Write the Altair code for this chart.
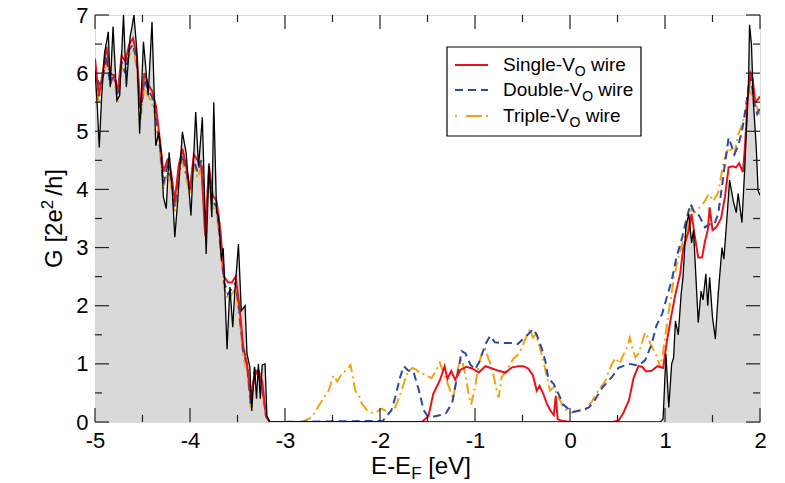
import altair as alt
import pandas as pd

# ---------------- data ----------------
pristine_E = [-5.00, -4.975, -4.955, -4.93, -4.90, -4.86, -4.84, -4.81, -4.77, -4.74, -4.70, -4.67,
              -4.63, -4.61, -4.59, -4.56, -4.53, -4.49, -4.44, -4.40, -4.36, -4.33, -4.30, -4.28,
              -4.25, -4.22, -4.19, -4.16, -4.13, -4.08, -4.04, -3.99, -3.94, -3.91, -3.87, -3.83,
              -3.80, -3.77, -3.75, -3.72, -3.70, -3.67, -3.65, -3.61, -3.58, -3.55, -3.53, -3.49,
              -3.46, -3.42, -3.40, -3.37, -3.35, -3.32, -3.30, -3.28, -3.26, -3.24, -3.21, -3.19,
              -3.16, 0.95, 0.98, 1.01, 1.04, 1.07, 1.09, 1.11, 1.14, 1.17, 1.19, 1.22, 1.25, 1.28,
              1.30, 1.35, 1.38, 1.40, 1.43, 1.45, 1.47, 1.50, 1.53, 1.56, 1.60, 1.62, 1.66, 1.68,
              1.72, 1.75, 1.77, 1.81, 1.84, 1.88, 1.89, 1.91, 1.93, 1.96, 1.98, 2.00]
pristine_G = [6.05, 5.4, 4.72, 5.6, 6.34, 6.71, 5.76, 6.80, 5.53, 5.62, 7.0, 5.76,
              6.63, 6.80, 7.0, 6.4, 4.96, 6.54, 5.62, 6.88, 4.75, 4.98, 4.6, 3.87,
              3.67, 4.64, 4.1, 3.18, 3.79, 4.99, 4.62, 3.55, 5.33, 4.4, 5.24, 2.89,
              4.45, 3.52, 5.5, 3.6, 3.55, 2.78, 2.99, 1.25, 2.32, 1.63, 2.2, 3.06,
              1.91, 2.0, 1.17, 0.95, 0.19, 0.95, 0.4, 1.0, 0.4, 0.98, 1.0, 0.1,
              0.0, 0.0, 0.05, 1.17, 0.25, 1.0, 1.1, 1.74, 1.5, 2.2, 2.5, 3.35, 3.58, 3.08,
              3.3, 1.71, 2.25, 2.1, 2.55, 2.0, 2.49, 1.8, 1.43, 2.2, 3.0, 2.8, 3.69, 4.16,
              3.79, 3.6, 3.93, 3.43, 4.38, 5.9, 6.83, 6.5, 5.5, 4.75, 3.98, 3.9]

single_E = [-5.00, -4.96, -4.92, -4.88, -4.84, -4.80, -4.76, -4.72, -4.68, -4.64, -4.60, -4.56,
            -4.52, -4.48, -4.44, -4.40, -4.36, -4.32, -4.28, -4.24, -4.20, -4.16, -4.12, -4.08,
            -4.04, -4.00, -3.96, -3.92, -3.88, -3.84, -3.80, -3.76, -3.72, -3.68, -3.64, -3.60,
            -3.56, -3.52, -3.48, -3.44, -3.40, -3.36, -3.32, -3.28, -3.24, -3.20, -3.16, -1.56,
            -1.49, -1.44, -1.39, -1.36, -1.32, -1.29, -1.25, -1.21, -1.15, -1.09, -1.03, -0.96,
            -0.89, -0.82, -0.75, -0.68, -0.61, -0.54, -0.49, -0.44, -0.39, -0.35, -0.32, -0.28,
            -0.24, -0.20, -0.17, -0.15, -0.13, -0.09, 0.00, 0.45, 0.51, 0.56, 0.62, 0.67, 0.72,
            0.76, 0.80, 0.86, 0.92, 0.98, 1.02, 1.07, 1.11, 1.16, 1.19, 1.25, 1.28, 1.31, 1.35,
            1.39, 1.42, 1.45, 1.47, 1.50, 1.54, 1.59, 1.63, 1.67, 1.71, 1.75, 1.78, 1.82, 1.84,
            1.87, 1.90, 1.92, 1.95, 1.98, 2.00]
single_G = [6.25, 5.6, 6.0, 6.45, 6.0, 5.95, 5.7, 6.3, 6.2, 6.5, 6.6, 6.3,
            5.4, 6.0, 5.8, 5.7, 5.45, 4.9, 4.3, 4.5, 4.3, 3.8, 4.4, 4.7,
            4.4, 4.0, 4.6, 4.5, 4.4, 3.2, 4.4, 3.9, 3.8, 3.3, 2.5, 2.4,
            2.4, 2.5, 2.0, 1.3, 1.0, 0.4, 0.8, 0.9, 0.7, 0.1, 0.0, 0.0,
            0.1, 0.48, 0.65, 0.76, 0.96, 0.74, 0.88, 0.73, 0.9, 0.95, 0.92, 0.85,
            0.96, 0.92, 0.88, 0.85, 0.94, 0.96, 0.96, 0.92, 0.8, 0.54, 0.62, 0.48,
            0.3, 0.18, 0.12, 0.45, 0.05, 0.02, 0.0, 0.0, 0.02, 0.15, 0.37, 0.76, 0.96,
            0.95, 0.87, 0.88, 0.96, 0.93, 1.39, 1.86, 2.2, 2.55, 2.97, 3.29, 3.58, 3.23, 2.83,
            2.83, 3.1, 3.3, 3.69, 3.3, 3.35, 3.5, 3.86, 4.38, 4.4, 4.38, 4.45, 4.3, 4.7,
            5.53, 6.0, 5.93, 5.5, 5.55, 5.6]

double_E = [-5.00, -4.96, -4.92, -4.88, -4.84, -4.80, -4.76, -4.72, -4.68, -4.64, -4.60, -4.56,
            -4.52, -4.48, -4.44, -4.40, -4.36, -4.32, -4.28, -4.24, -4.20, -4.16, -4.12, -4.08,
            -4.04, -4.00, -3.96, -3.92, -3.88, -3.84, -3.80, -3.76, -3.72, -3.68, -3.64, -3.60,
            -3.56, -3.52, -3.48, -3.44, -3.40, -3.36, -3.32, -3.28, -3.24, -3.20, -3.16, -1.97,
            -1.95, -1.88, -1.84, -1.79, -1.75, -1.70, -1.65, -1.59, -1.54, -1.49, -1.42, -1.31,
            -1.24, -1.19, -1.14, -1.10, -1.05, -1.00, -0.95, -0.89, -0.84, -0.79, -0.72, -0.65,
            -0.59, -0.55, -0.50, -0.44, -0.39, -0.35, -0.30, -0.26, -0.23, -0.17, -0.12, -0.07,
            -0.02, 0.02, 0.12, 0.20, 0.27, 0.34, 0.44, 0.51, 0.62, 0.72, 0.79, 0.86, 0.91, 0.97,
            1.02, 1.07, 1.12, 1.18, 1.23, 1.27, 1.31, 1.36, 1.42, 1.47, 1.52, 1.56, 1.60, 1.63,
            1.67, 1.70, 1.73, 1.77, 1.81, 1.84, 1.88, 1.90, 1.94, 1.97, 2.00]
double_G = [6.1, 5.8, 5.9, 6.3, 5.8, 6.0, 5.6, 6.2, 6.0, 6.4, 6.5, 6.2,
            5.3, 5.9, 5.7, 5.6, 5.3, 4.8, 4.1, 4.4, 4.2, 3.7, 4.3, 4.6,
            4.3, 4.0, 4.5, 4.3, 4.5, 3.4, 4.3, 3.8, 3.7, 3.1, 2.4, 2.2,
            2.3, 2.4, 1.9, 1.2, 1.0, 0.3, 0.9, 0.85, 0.6, 0.1, 0.0, 0.02,
            0.06, 0.2, 0.42, 0.76, 0.96, 0.88, 0.88, 0.54, 0.2, 0.08, 0.1, 0.14,
            0.33, 0.76, 1.22, 1.18, 0.99, 0.9, 1.05, 1.34, 1.48, 1.37, 1.36, 1.36,
            1.36, 1.34, 1.42, 1.51, 1.6, 1.5, 1.28, 1.05, 0.76, 0.65, 0.48, 0.3,
            0.23, 0.17, 0.2, 0.25, 0.4, 0.59, 0.77, 0.93, 1.0, 0.97, 1.06, 1.34, 1.66, 1.86,
            2.15, 2.43, 2.83, 3.17, 3.52, 3.75, 3.6, 3.55, 3.35, 3.4, 3.4, 3.58, 4.05, 4.43,
            4.89, 4.75, 4.6, 4.75, 5.0, 5.3, 5.76, 5.95, 5.5, 5.3, 5.4]

triple_E = [-5.00, -4.96, -4.92, -4.88, -4.84, -4.80, -4.76, -4.72, -4.68, -4.64, -4.60, -4.56,
            -4.52, -4.48, -4.44, -4.40, -4.36, -4.32, -4.28, -4.24, -4.20, -4.16, -4.12, -4.08,
            -4.04, -4.00, -3.96, -3.92, -3.88, -3.84, -3.80, -3.76, -3.72, -3.68, -3.64, -3.60,
            -3.56, -3.52, -3.48, -3.44, -3.40, -3.36, -3.32, -3.28, -3.24, -3.20, -3.16, -2.82,
            -2.72, -2.61, -2.54, -2.49, -2.45, -2.40, -2.35, -2.31, -2.29, -2.26, -2.22, -2.19,
            -2.14, -2.09, -2.03, -1.98, -1.91, -1.84, -1.77, -1.72, -1.66, -1.62, -1.57, -1.52,
            -1.46, -1.42, -1.37, -1.32, -1.26, -1.23, -1.20, -1.17, -1.14, -1.10, -1.06, -1.04,
            -1.00, -0.96, -0.93, -0.89, -0.86, -0.82, -0.78, -0.75, -0.72, -0.66, -0.60, -0.54,
            -0.50, -0.45, -0.42, -0.39, -0.36, -0.32, -0.28, -0.24, -0.21, -0.17, -0.13, -0.10,
            -0.07, -0.02, 0.02, 0.09, 0.16, 0.23, 0.30, 0.37, 0.44, 0.48, 0.52, 0.56, 0.60, 0.63,
            0.66, 0.69, 0.73, 0.79, 0.82, 0.86, 0.92, 0.95, 0.98, 1.04, 1.09, 1.14, 1.19, 1.25,
            1.28, 1.31, 1.37, 1.42, 1.46, 1.51, 1.56, 1.62, 1.67, 1.70, 1.73, 1.77, 1.81, 1.85,
            1.88, 1.91, 1.95, 1.99, 2.00]
triple_G = [6.0, 5.5, 5.9, 6.2, 5.9, 5.9, 5.5, 6.1, 6.0, 6.3, 6.4, 6.1,
            5.2, 5.8, 5.6, 5.5, 5.2, 4.7, 4.0, 4.3, 4.1, 3.6, 4.2, 4.5,
            4.2, 3.9, 4.4, 4.2, 4.4, 3.3, 4.2, 3.7, 3.6, 3.0, 2.3, 2.1,
            2.2, 2.3, 1.8, 1.1, 0.9, 0.25, 0.85, 0.8, 0.55, 0.1, 0.0, 0.0,
            0.08, 0.37, 0.54, 0.8, 0.7, 0.83, 0.9, 0.98, 0.8, 0.54, 0.45, 0.31,
            0.21, 0.16, 0.18, 0.23, 0.16, 0.25, 0.55, 0.82, 0.93, 0.9, 0.83, 0.82,
            0.75, 0.85, 1.02, 0.8, 0.54, 0.4, 0.7, 1.0, 1.08, 0.8, 0.42, 0.3,
            0.6, 1.0, 1.17, 1.25, 1.1, 0.93, 0.6, 0.42, 0.77, 0.9, 1.08, 1.17,
            1.3, 1.51, 1.6, 1.45, 1.51, 1.3, 1.05, 0.75, 0.54, 0.6, 0.45, 0.36,
            0.25, 0.18, 0.16, 0.2, 0.21, 0.35, 0.55, 0.7, 1.0, 1.1, 1.0, 1.15, 1.28, 1.45,
            1.25, 1.11, 1.2, 1.54, 1.45, 1.3, 1.11, 0.93, 1.2, 1.91, 2.43, 2.83, 3.11, 3.4,
            3.68, 3.6, 3.7, 3.8, 3.92, 3.8, 3.95, 4.49, 4.72, 4.65, 4.6, 4.95, 5.1, 5.36,
            5.7, 5.65, 5.5, 5.3, 5.3]

x_major = [-5, -4, -3, -2, -1, 0, 1, 2]
x_minor = [-4.5, -3.5, -2.5, -1.5, -0.5, 0.5, 1.5]
y_major = [0, 1, 2, 3, 4, 5, 6, 7]
y_minor = [0.5, 1.5, 2.5, 3.5, 4.5, 5.5, 6.5]

legend_labels = ["Single-V", "Double-V", "Triple-V"]
legend_colors = ["#e8141c", "#2b4aa3", "#f5a10f"]

# ---------------- layout ----------------
W, H = 665, 407
FONT = "Liberation Sans"
MAJ, MIN = 14, 7

xs = alt.Scale(domain=[-5, 2], nice=False, zero=False)
ys = alt.Scale(domain=[0, 7], nice=False, zero=False)

x_axis = alt.Axis(
    values=x_major, ticks=False, domain=False, grid=False, labelFontSize=22,
    labelFont=FONT, labelColor="black", labelPadding=8, labelFlush=False,
    labelOverlap=False, title=None,
    labelExpr="datum.value < 0 ? '-' + abs(datum.value) : '' + datum.value")
y_axis = alt.Axis(
    values=y_major, ticks=False, domain=False, grid=False, labelFontSize=22,
    labelFont=FONT, labelColor="black", labelPadding=7, labelFlush=False,
    labelOverlap=False, title=None, format="d")

XE = alt.X("E:Q", scale=xs, axis=x_axis)
YG = alt.Y("G:Q", scale=ys, axis=y_axis)

# Arial-like advance widths (per em) for positioning the sub/superscript pieces
CW = {"S": .667, "i": .222, "n": .556, "g": .556, "l": .222, "e": .556, "-": .333, "V": .667,
      "O": .778, " ": .278, "w": .722, "r": .333, "D": .722, "o": .556, "u": .556, "b": .556,
      "T": .611, "p": .556, "E": .667, "F": .611, "[": .278, "]": .278, "v": .5, "G": .778,
      "2": .556, "/": .278, "h": .556}


def tw(s, size):
    return sum(CW.get(c, .556) for c in s) * size


one = pd.DataFrame({"k": [0]})

pristine = pd.DataFrame({"E": pristine_E, "G": pristine_G})

area = alt.Chart(pristine).mark_area(color="#d9d9d9", clip=True).encode(x=XE, y=YG)


def series(E, G, color, dash, width=2.0):
    df = pd.DataFrame({"E": E, "G": G})
    kw = dict(color=color, strokeWidth=width, clip=True)
    if dash:
        kw["strokeDash"] = dash
    return alt.Chart(df).mark_line(**kw).encode(x=XE, y=YG)


dash_blue = [8, 5]
dash_orange = [11, 4, 2, 4]

red = series(single_E, single_G, legend_colors[0], None)
blue = series(double_E, double_G, legend_colors[1], dash_blue)
orange = series(triple_E, triple_G, legend_colors[2], dash_orange)
black = series(pristine_E, pristine_G, "black", None, 1.3)


# inward ticks on all four sides
def xticks(vals, length):
    df = pd.DataFrame({"E": vals})
    bot = alt.Chart(df).mark_rule(color="#222", strokeWidth=1.2).encode(
        x=XE, y=alt.value(H), y2=alt.value(H - length))
    top = alt.Chart(df).mark_rule(color="#222", strokeWidth=1.2).encode(
        x=XE, y=alt.value(0), y2=alt.value(length))
    return [bot, top]


def yticks(vals, length):
    df = pd.DataFrame({"G": vals})
    lft = alt.Chart(df).mark_rule(color="#222", strokeWidth=1.2).encode(
        y=YG, x=alt.value(0), x2=alt.value(length))
    rgt = alt.Chart(df).mark_rule(color="#222", strokeWidth=1.2).encode(
        y=YG, x=alt.value(W), x2=alt.value(W - length))
    return [lft, rgt]


ticks = xticks(x_major, MAJ) + xticks(x_minor, MIN) + yticks(y_major, MAJ) + yticks(y_minor, MIN)


def txt(s, size, x, y, baseline="alphabetic", angle=0):
    kw = dict(text=s, font=FONT, fontSize=size, align="left", baseline=baseline, color="black")
    if angle:
        kw["angle"] = angle
    return alt.Chart(one).mark_text(**kw).encode(x=alt.value(x), y=alt.value(y))


# x-axis title with subscript F
XT, XS = 24, 17
xt_total = tw("E-E", XT) + tw("F", XS) + tw(" [eV]", XT)
x0 = 326 - xt_total / 2
yb = 459
xtitle = [
    txt("E-E", XT, x0, yb),
    txt("F", XS, x0 + tw("E-E", XT), yb + 5),
    txt("[eV]", XT, x0 + tw("E-E", XT) + tw("F", XS) + tw(" ", XT), yb),
]

# y-axis title with superscript 2 (rotated, reading bottom to top)
YT, YS = 24, 17
yt_total = tw("G [2e", YT) + tw("2", YS) + tw("/h]", YT) + 4
ystart = H / 2 + yt_total / 2
bx = -33
ytitle = [
    txt("G [2e", YT, bx, ystart, angle=270),
    txt("2", YS, bx - 9, ystart - tw("G [2e", YT), angle=270),
    txt("/h]", YT, bx, ystart - tw("G [2e", YT) - tw("2", YS) - 4, angle=270),
]

# legend
LX0, LX1, LY0, LY1 = 352, 546, 32, 121
box = alt.Chart(one).mark_rect(fill="white", stroke="black", strokeWidth=1.2).encode(
    x=alt.value(LX0), x2=alt.value(LX1), y=alt.value(LY0), y2=alt.value(LY1))
legend = [box]
rows_y = [50, 75, 101]
dashes = [None, dash_blue, [2, 9, 16, 4]]
LF, LS = 19, 14
for lab, col, dsh, ry in zip(legend_labels, legend_colors, dashes, rows_y):
    kw = dict(color=col, strokeWidth=2)
    if dsh:
        kw["strokeDash"] = dsh
    legend.append(alt.Chart(one).mark_rule(**kw).encode(
        x=alt.value(360), x2=alt.value(393), y=alt.value(ry)))
    tx = 408
    legend.append(txt(lab, LF, tx, ry, "middle"))
    sx = tx + tw(lab, LF)
    legend.append(txt("O", LS, sx, ry + 7, "middle"))
    legend.append(txt("wire", LF, sx + tw("O", LS) + tw(" ", LF), ry, "middle"))

chart = alt.layer(area, orange, blue, red, black, *ticks, *xtitle, *ytitle, *legend).properties(
    width=W, height=H,
    padding={"left": 95, "top": 15, "right": 25, "bottom": 61},
    autosize=alt.AutoSizeParams(type="none"),
).configure_view(stroke="#222", strokeWidth=1.5).configure(background="white")

chart.save("out.html", embed_options={"renderer": "svg", "actions": False})
